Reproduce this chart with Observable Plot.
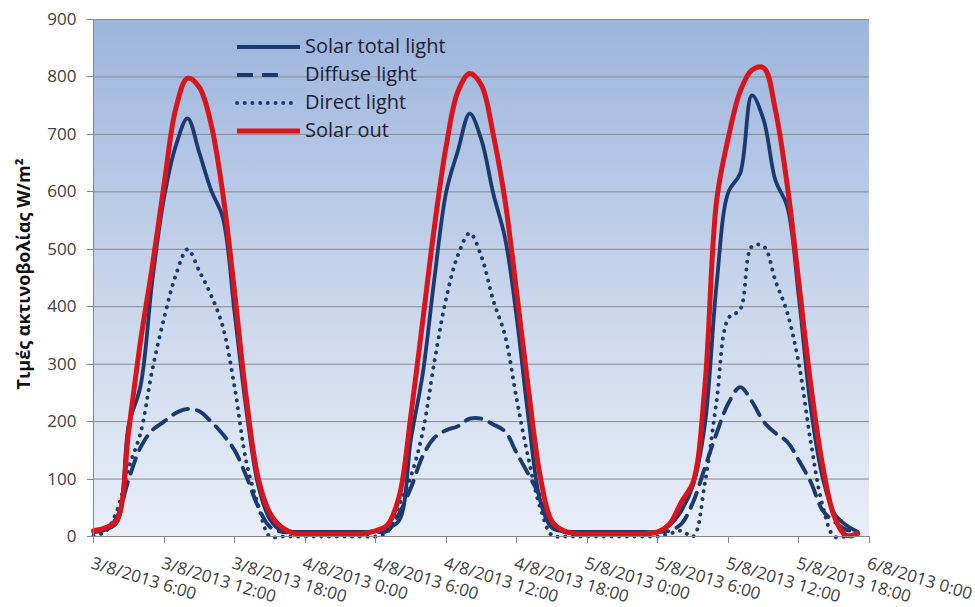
<!DOCTYPE html>
<html><head><meta charset="utf-8">
<script src="https://cdn.jsdelivr.net/npm/d3@7"></script>
<script src="https://cdn.jsdelivr.net/npm/@observablehq/plot@0.6"></script>
<style>
html,body{margin:0;padding:0;background:#fff;}
#chart{width:975px;height:607px;}
#chart svg{font-family:"Open Sans",sans-serif;overflow:visible;}
</style></head><body><div id="chart"></div>
<script>
// hours after 3/8/2013 6:00
const hours = [0,1,2,3,4,5,6,7,8,9,10,11,12,13,14,15,16,17,18,19,20,21,22,23,24,25,26,27,28,29,30,31,32,33,34,35,36,37,38,39,40,41,42,43,44,45,46,47,48,49,50,51,52,53,54,55,56,57,58,59,60,61,62,63,64,65];
const solarTotal = [8,12,25,195,262,445,590,680,728,668,603,555,390,220,90,30,10,8,8,8,8,8,8,8,9,15,28,170,283,450,600,672,736,690,597,520,380,205,62,15,9,8,8,8,8,8,8,8,8,20,45,90,195,440,600,632,768,725,620,575,415,225,104,40,20,8];
const diffuse = [8,12,34,100,155,185,200,215,222,218,200,178,150,105,52,17,8,8,8,8,8,8,8,8,8,10,40,85,140,172,185,192,205,205,195,183,145,108,69,22,8,8,8,8,8,8,8,8,8,10,22,60,120,180,232,260,235,200,180,165,132,95,46,26,12,8];
const direct = [2,8,45,120,180,290,380,455,500,462,420,365,260,130,55,0,0,0,0,0,0,0,0,0,0,8,55,105,182,305,415,490,528,487,411,350,238,135,50,2,0,0,0,0,0,0,0,0,0,5,10,0,93,237,380,395,505,505,445,390,300,165,55,0,0,0];
const solarOut = [10,15,29,185,340,470,612,745,798,782,718,597,425,240,102,41,16,6,4,4,4,4,4,5,10,20,70,212,375,540,680,775,806,785,700,585,423,255,104,26,10,5,4,4,4,4,4,5,8,22,60,95,262,585,695,775,812,816,742,612,440,265,125,35,2,5];

const xTickHours = [0,6,12,18,24,30,36,42,48,54,60,66];
const xTickLabels = ["3/8/2013 6:00","3/8/2013 12:00","3/8/2013 18:00","4/8/2013 0:00","4/8/2013 6:00","4/8/2013 12:00","4/8/2013 18:00","5/8/2013 0:00","5/8/2013 6:00","5/8/2013 12:00","5/8/2013 18:00","6/8/2013 0:00"];
const yTicks = [0,100,200,300,400,500,600,700,800,900];
const seriesNames = ["Solar total light","Diffuse light","Direct light","Solar out"];
const yLabel = "Τιμές ακτινοβολίας W/m²";

const NAVY = "#1b3a70", RED = "#d9141c";
const styles = [
  {stroke: NAVY, strokeWidth: 3.8},
  {stroke: NAVY, strokeWidth: 3.9, strokeDasharray: "16,9"},
  {stroke: NAVY, strokeWidth: 3.9, strokeDasharray: "0.1,7.6", strokeLinecap: "round"},
  {stroke: RED, strokeWidth: 5}
];
const seriesValues = [solarTotal, diffuse, direct, solarOut];
const tables = seriesValues.map(vals => hours.map((h, i) => ({h, v: vals[i]})));

function background(index, scales) {
  const g = d3.create("svg:g");
  const lg = g.append("defs").append("linearGradient")
    .attr("id", "bgGrad").attr("x1", 0).attr("y1", 0).attr("x2", 0).attr("y2", 1);
  lg.append("stop").attr("offset", "0%").attr("stop-color", "#9cb5dd");
  lg.append("stop").attr("offset", "50%").attr("stop-color", "#c6d4ea");
  lg.append("stop").attr("offset", "100%").attr("stop-color", "#e8eef8");
  const x0 = scales.x(xTickHours[0]), x1 = scales.x(xTickHours[xTickHours.length - 1]);
  const y0 = scales.y(yTicks[yTicks.length - 1]), y1 = scales.y(yTicks[0]);
  g.append("rect").attr("x", x0).attr("y", y0).attr("width", x1 - x0).attr("height", y1 - y0)
    .attr("fill", "url(#bgGrad)");
  return g.node();
}

function axes(index, scales) {
  const g = d3.create("svg:g").attr("stroke", "#868686").attr("stroke-width", 1).attr("fill", "none");
  const x0 = scales.x(xTickHours[0]), x1 = scales.x(xTickHours[xTickHours.length - 1]);
  const yb = scales.y(0), yt = scales.y(yTicks[yTicks.length - 1]);
  g.append("line").attr("x1", x0 + 0.5).attr("x2", x0 + 0.5).attr("y1", yt).attr("y2", yb);
  g.append("line").attr("x1", x0).attr("x2", x1).attr("y1", yb + 0.5).attr("y2", yb + 0.5);
  for (const t of yTicks) {
    const y = Math.round(scales.y(t)) + 0.5;
    g.append("line").attr("x1", x0 - 6).attr("x2", x0).attr("y1", y).attr("y2", y);
  }
  for (const t of xTickHours) {
    const x = Math.round(scales.x(t)) + 0.5;
    g.append("line").attr("x1", x).attr("x2", x).attr("y1", yb).attr("y2", yb + 7);
  }
  return g.node();
}

function legend(index, scales) {
  const g = d3.create("svg:g");
  const lx = scales.x(xTickHours[0]) + 144;
  const ly = scales.y(yTicks[yTicks.length - 1]) + 28;
  seriesNames.forEach((name, i) => {
    const y = ly + 28 * i;
    const s = styles[i];
    const len = i === 2 ? 56 : i === 1 ? 50 : 63;
    g.append("line").attr("x1", lx).attr("x2", lx + len).attr("y1", y).attr("y2", y)
      .attr("stroke", s.stroke).attr("stroke-width", s.strokeWidth)
      .attr("stroke-dasharray", s.strokeDasharray || null)
      .attr("stroke-linecap", s.strokeLinecap || "butt");
    g.append("text").attr("x", lx + 68).attr("y", y).attr("dy", "0.32em")
      .attr("text-anchor", "start")
      .attr("font-size", 20).attr("fill", "#1e1e30").text(name);
  });
  return g.node();
}

const chart = Plot.plot({
  width: 975, height: 607,
  marginLeft: 93, marginRight: 106, marginTop: 19, marginBottom: 71,
  x: {domain: [0, 66], axis: null},
  y: {domain: [0, 900], axis: null},
  style: {fontFamily: "'Open Sans', sans-serif", background: "white", overflow: "visible"},
  marks: [
    background,
    Plot.ruleY(yTicks.filter(d => d > 0), {stroke: "#8a8a8a", strokeWidth: 1}),
    ...tables.map((t, i) => Plot.line(t, {x: "h", y: "v", curve: "catmull-rom", ...styles[i]})),
    axes,
    Plot.text(yTicks, {y: d => d, text: d => String(d), frameAnchor: "left", dx: -17, textAnchor: "end", fontSize: 17, fill: "#404040"}),
    Plot.text(xTickHours, {x: d => d, text: (d, i) => xTickLabels[i], frameAnchor: "bottom", dy: 20, rotate: 17, textAnchor: "start", lineAnchor: "top", fontSize: 17, fill: "#404040"}),
    Plot.text([yLabel], {text: d => d, frameAnchor: "left", dx: -69, dy: -4, rotate: -90, textAnchor: "middle", fontWeight: "bold", fontSize: 18, fill: "#111"}),
    legend
  ]
});
document.getElementById("chart").appendChild(chart);
</script>
</body></html>
